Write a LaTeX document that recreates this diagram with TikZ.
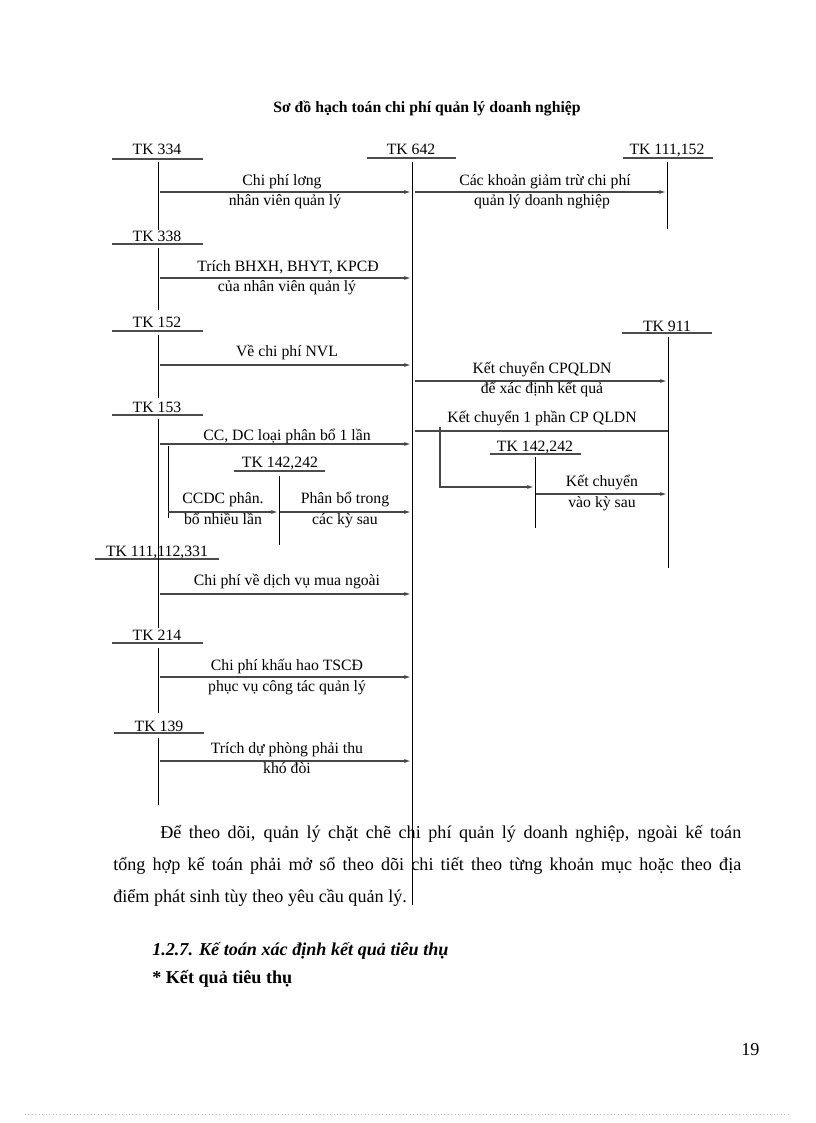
\documentclass[tikz,border=0pt]{standalone}
\usepackage{fontspec}
\setmainfont{Liberation Serif}
\usetikzlibrary{arrows.meta}
\begin{document}
\begin{tikzpicture}[x=0.75pt,y=-0.75pt,
  lbl/.style={font=\fontsize{11.8}{13}\selectfont, inner sep=0pt, text height=8pt, text depth=2pt},
  ulin/.style={line width=1.1pt, black!70},
  vl/.style={line width=0.6pt, black},
  arr/.style={line width=1.2pt, black!72, -{Latex[length=5pt,width=3pt]}},
  ln/.style={line width=1.2pt, black!72},
  para/.style={font=\fontsize{13.6}{16}\selectfont, inner sep=0pt, anchor=base west}]
\useasboundingbox (0,0) rectangle (816,1123);
% title
\node[font=\bfseries\fontsize{11.8}{14}\selectfont, inner sep=0pt, anchor=base] (title) at (427,113) {Sơ đồ hạch toán chi phí quản lý doanh nghiệp};

% ---- account headers ----
\node[lbl] (t334) at (157,151) {TK 334};
\node[lbl] (t642) at (411,151) {TK 642};
\node[lbl] (t111a) at (667,151) {TK 111,152};
\node[lbl] (t338) at (157,237) {TK 338};
\node[lbl] (t152) at (157,323) {TK 152};
\node[lbl] (t911) at (667,327) {TK 911};
\node[lbl] (t153) at (157,408) {TK 153};
\node[lbl] (t142r) at (535,447) {TK 142,242};
\node[lbl] (t142l) at (280,463) {TK 142,242};
\node[lbl] (t111b) at (157,552) {TK 111,112,331};
\node[lbl] (t214) at (157,636) {TK 214};
\node[lbl] (t139) at (159,727) {TK 139};

% underlines
\coordinate (u334a) at (112,159); \coordinate (u334b) at (203,159);
\coordinate (u642a) at (367,158); \coordinate (u642b) at (456,158);
\coordinate (u111aa) at (623,158); \coordinate (u111ab) at (713,158);
\coordinate (u338a) at (112,244); \coordinate (u338b) at (203,244);
\coordinate (u152a) at (112,331); \coordinate (u152b) at (203,331);
\coordinate (u911a) at (622,333); \coordinate (u911b) at (712,333);
\coordinate (u153a) at (112,415); \coordinate (u153b) at (203,415);
\coordinate (u142ra) at (490,454); \coordinate (u142rb) at (581,454);
\coordinate (u142la) at (234,471); \coordinate (u142lb) at (325,471);
\coordinate (u111ba) at (95,559); \coordinate (u111bb) at (219,559);
\coordinate (u214a) at (112,643); \coordinate (u214b) at (203,643);
\coordinate (u139a) at (114,733); \coordinate (u139b) at (204,733);
\foreach \u in {334,642,111a,338,152,911,153,142r,142l,111b,214,139}
  \draw[ulin] (u\u a) -- (u\u b);

% vertical lines
\coordinate (v334a) at (158,162); \coordinate (v334b) at (158,230);
\coordinate (v642a) at (412,162); \coordinate (v642b) at (412,905);
\coordinate (v111aa) at (667,162); \coordinate (v111ab) at (667,229);
\coordinate (v338a) at (158,248); \coordinate (v338b) at (158,310);
\coordinate (v152a) at (158,335); \coordinate (v152b) at (158,398);
\coordinate (v911a) at (668,337); \coordinate (v911b) at (668,568);
\coordinate (v153a) at (158,419); \coordinate (v153b) at (158,557);
\coordinate (v142ra) at (535,457); \coordinate (v142rb) at (535,528);
\coordinate (v142la) at (279,476); \coordinate (v142lb) at (279,545);
\coordinate (v111ba) at (158,557); \coordinate (v111bb) at (158,628);
\coordinate (v214a) at (158,648); \coordinate (v214b) at (158,713);
\coordinate (v139a) at (158,738); \coordinate (v139b) at (158,805);
\foreach \v in {334,642,111a,338,152,911,153,142r,142l,111b,214,139}
  \draw[vl] (v\v a) -- (v\v b);

% ---- arrows ----
\coordinate (a1s) at (160,192); \coordinate (a1e) at (411,192);
\draw[arr] (a1s) -- (a1e);
\node[lbl] (l1a) at (282,182) {Chi phí lơng};
\node[lbl] (l1b) at (285,202) {nhân viên quản lý};

\coordinate (a2s) at (415,192); \coordinate (a2e) at (666,192);
\draw[arr] (a2s) -- (a2e);
\node[lbl] (l2a) at (545,182) {Các khoản giảm trừ chi phí};
\node[lbl] (l2b) at (542,202) {quản lý doanh nghiệp};

\coordinate (a3s) at (160,278); \coordinate (a3e) at (411,278);
\draw[arr] (a3s) -- (a3e);
\node[lbl] (l3a) at (288,267) {Trích BHXH, BHYT, KPCĐ};
\node[lbl] (l3b) at (287,287) {của nhân viên quản lý};

\coordinate (a4s) at (160,365); \coordinate (a4e) at (411,365);
\draw[arr] (a4s) -- (a4e);
\node[lbl] (l4a) at (287,352) {Về chi phí NVL};

\coordinate (a5s) at (415,381); \coordinate (a5e) at (667,381);
\draw[arr] (a5s) -- (a5e);
\node[lbl] (l5a) at (542,369) {Kết chuyển CPQLDN};
\node[lbl] (l5b) at (542,389) {để xác định kết quả};

\coordinate (a6s) at (415,431); \coordinate (a6e) at (668,431);
\draw[ln] (a6s) -- (a6e);
\node[lbl] (l6a) at (542,418) {Kết chuyển 1 phần CP QLDN};
\coordinate (b6s) at (440,427); \coordinate (b6c) at (440,487); \coordinate (b6e) at (534,487);
\draw[arr] (b6s) -- (b6c) -- (b6e);

\coordinate (a7s) at (536,494); \coordinate (a7e) at (667,494);
\draw[arr] (a7s) -- (a7e);
\node[lbl] (l7a) at (602,482) {Kết chuyển};
\node[lbl] (l7b) at (602,503) {vào kỳ sau};

\coordinate (a8s) at (160,444); \coordinate (a8e) at (411,444);
\draw[arr] (a8s) -- (a8e);
\node[lbl] (l8a) at (287,436) {CC, DC loại phân bổ 1 lần};

\coordinate (a9s) at (168,446); \coordinate (a9c) at (168,518);
\draw[vl] (a9s) -- (a9c);
\coordinate (a9a) at (168,512); \coordinate (a9e) at (278,512);
\draw[arr] (a9a) -- (a9e);
\node[lbl] (l9a) at (223,499) {CCDC phân.};
\node[lbl] (l9b) at (223,520) {bổ nhiều lần};

\coordinate (a10s) at (280,512); \coordinate (a10e) at (411,512);
\draw[arr] (a10s) -- (a10e);
\node[lbl] (l10a) at (345,499) {Phân bổ trong};
\node[lbl] (l10b) at (345,520) {các kỳ sau};

\coordinate (a11s) at (160,594); \coordinate (a11e) at (411,594);
\draw[arr] (a11s) -- (a11e);
\node[lbl] (l11a) at (287,581) {Chi phí về dịch vụ mua ngoài};

\coordinate (a12s) at (160,677); \coordinate (a12e) at (411,677);
\draw[arr] (a12s) -- (a12e);
\node[lbl] (l12a) at (287,666) {Chi phí khấu hao TSCĐ};
\node[lbl] (l12b) at (287,687) {phục vụ công tác quản lý};

\coordinate (a13s) at (160,761); \coordinate (a13e) at (411,761);
\draw[arr] (a13s) -- (a13e);
\node[lbl] (l13a) at (287,749) {Trích dự phòng phải thu};
\node[lbl] (l13b) at (287,769) {khó đòi};

% ---- body text ----
\node[para] (p1) at (160,838) {\makebox[435.75pt][s]{Để theo dõi, quản lý chặt chẽ chi phí quản lý doanh nghiệp, ngoài kế toán}};
\node[para] (p2) at (113,870) {\makebox[471pt][s]{tổng hợp kế toán phải mở sổ theo dõi chi tiết theo từng khoản mục hoặc theo địa}};
\node[para] (p3) at (113,902) {điểm phát sinh tùy theo yêu cầu quản lý.};
\node[para, font=\bfseries\itshape\fontsize{13.6}{16}\selectfont] (h1) at (152,955) {1.2.7. Kế toán xác định kết quả tiêu thụ};
\node[para, font=\bfseries\fontsize{13.6}{16}\selectfont] (h2) at (152,983) {* Kết quả tiêu thụ};
\node[para] (pg) at (741,1055) {19};

\coordinate (d1) at (25,1114); \coordinate (d2) at (790,1114);
\draw[dotted, black!25, line width=0.6pt] (d1) -- (d2);
\end{tikzpicture}
\end{document}
